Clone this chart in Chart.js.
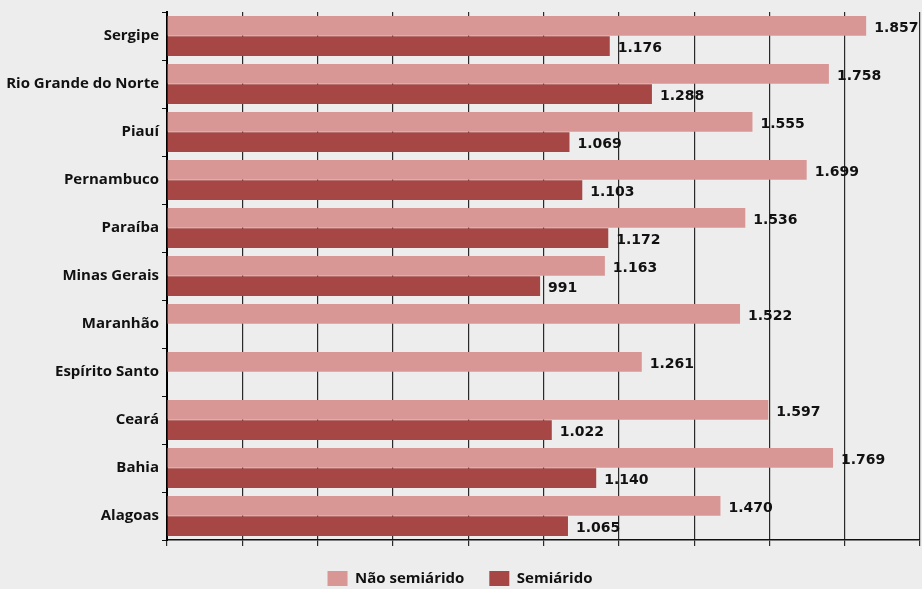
<!DOCTYPE html>
<html>
<head>
<meta charset="utf-8">
<script src="https://cdn.jsdelivr.net/npm/chart.js@4"></script>
<style>
    html, body { margin: 0; padding: 0; background: #ecedec; }
    #wrap { width: 922px; height: 589px; }
</style>
</head>
<body>
<div id="wrap"><canvas id="canvas" width="922" height="589"></canvas></div>
<script>
var estados = ["Sergipe", "Rio Grande do Norte", "Piauí", "Pernambuco", "Paraíba", "Minas Gerais", "Maranhão", "Espírito Santo", "Ceará", "Bahia", "Alagoas"];
var naoSemiarido = [1857, 1758, 1555, 1699, 1536, 1163, 1522, 1261, 1597, 1769, 1470];
var semiarido = [1176, 1288, 1069, 1103, 1172, 991, null, null, 1022, 1140, 1065];
var seriesNames = ["Não semiárido", "Semiárido"];

var ctx = document.getElementById('canvas').getContext('2d');

// numero com ponto de milhar, ex: 1.857
function formatNum(v) {
    return String(v).replace(/\B(?=(\d{3})+(?!\d))/g, '.');
}

var bgPlugin = {
    id: 'bg',
    beforeDraw: function (chart) {
        var c = chart.ctx;
        c.save();
        c.fillStyle = '#ecedec';
        c.fillRect(0, 0, chart.width, chart.height);
        c.restore();
    }
};

var valuePlugin = {
    id: 'values',
    afterDatasetsDraw: function (chart) {
        var c = chart.ctx;
        c.save();
        c.font = 'bold 14px "DejaVu Sans"';
        c.fillStyle = '#111';
        c.textAlign = 'left';
        c.textBaseline = 'middle';
        chart.data.datasets.forEach(function (ds, i) {
            var meta = chart.getDatasetMeta(i);
            meta.data.forEach(function (bar, j) {
                if (ds.data[j] == null) return;
                c.fillText(formatNum(ds.data[j]), bar.x + 8, bar.y + 2);
            });
        });
        c.restore();
    }
};

var myChart = new Chart(ctx, {
    type: 'bar',
    data: {
        labels: estados,
        datasets: [{
            label: seriesNames[0],
            data: naoSemiarido,
            backgroundColor: '#d89795',
            borderWidth: 0,
            categoryPercentage: 0.84,
            barPercentage: 0.98
        }, {
            label: seriesNames[1],
            data: semiarido,
            backgroundColor: '#a64645',
            borderWidth: 0,
            categoryPercentage: 0.84,
            barPercentage: 0.98
        }]
    },
    options: {
        indexAxis: 'y',
        responsive: false,
        animation: false,
        layout: {
            padding: { top: 10, right: 2, left: 0, bottom: -7 }
        },
        scales: {
            x: {
                min: 0,
                max: 2000,
                ticks: { display: false, stepSize: 200 },
                grid: {
                    color: '#2a2a2a',
                    lineWidth: 1.2,
                    drawTicks: true,
                    tickLength: 6
                },
                border: { display: true, color: '#111', width: 1.5 }
            },
            y: {
                afterFit: function (scale) {
                    scale.width = 167;
                },
                ticks: {
                    color: '#111',
                    padding: 3,
                    font: { family: '"Open Sans"', size: 15, weight: 'bold' }
                },
                grid: {
                    drawOnChartArea: false,
                    drawTicks: true,
                    tickLength: 5,
                    color: '#111'
                },
                border: { display: true, color: '#000', width: 2 }
            }
        },
        plugins: {
            legend: {
                position: 'bottom',
                labels: {
                    boxWidth: 20,
                    boxHeight: 15,
                    padding: 25,
                    color: '#111',
                    font: { family: '"Open Sans"', size: 15, weight: 'bold' }
                }
            },
            tooltip: { enabled: false }
        }
    },
    plugins: [bgPlugin, valuePlugin]
});
</script>
</body>
</html>
